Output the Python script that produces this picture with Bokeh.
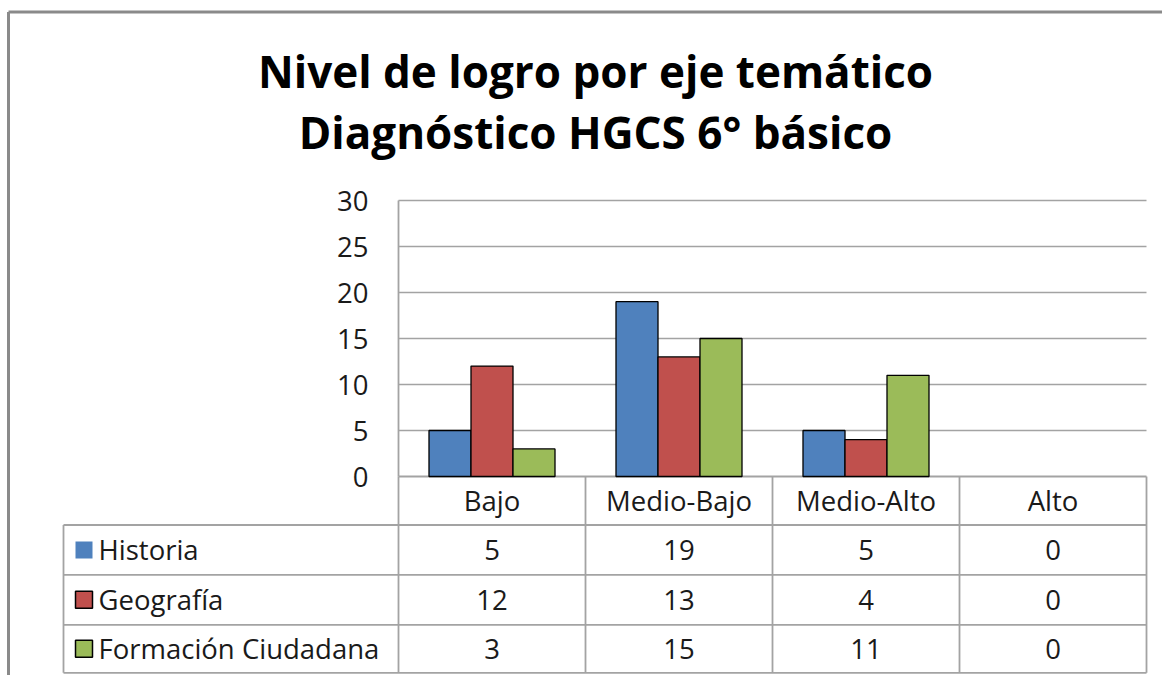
from bokeh.plotting import figure
from bokeh.models import Range1d
from bokeh.core.properties import value
from bokeh.embed import file_html
from bokeh.resources import INLINE

# ---------------- data ----------------
title_lines = ["Nivel de logro por eje temático", "Diagnóstico HGCS 6° básico"]
categories = ["Bajo", "Medio-Bajo", "Medio-Alto", "Alto"]
series_names = ["Historia", "Geografía", "Formación Ciudadana"]
historia = [5, 19, 5, 0]
geografia = [12, 13, 4, 0]
formacion = [3, 15, 11, 0]
y_ticks = [0, 5, 10, 15, 20, 25, 30]
colors = ["#4F81BD", "#C0504D", "#9BBB59"]

series = [historia, geografia, formacion]

# ---------------- geometry (page pixels) ----------------
W, H = 1162, 675
PAGE = 0
AX_LEFT, AX_RIGHT = 398, 1146
Y0_PIX, YTOP_PIX = 476, 200
Y_MAX = 30
TABLE_LEFT = 63
ROW_EDGES = [476, 524.5, 574.3, 624.3, 672.3]

px_x = (AX_RIGHT - AX_LEFT) / len(categories)
px_y = (Y0_PIX - YTOP_PIX) / Y_MAX


def dx(px):
    return (px - AX_LEFT) / px_x


def dy(py):
    return (Y0_PIX - py) / px_y


FONT = value("Open Sans")
TXT = "#1a1a1a"
GRID = "#a3a3a3"
FS = "27.5px"

p = figure(width=W, height=H,
           x_range=Range1d(dx(PAGE), dx(PAGE + W)),
           y_range=Range1d(dy(PAGE + H), dy(PAGE)),
           output_backend="svg", toolbar_location=None,
           x_axis_location=None, y_axis_location=None,
           min_border=0, min_border_left=0, min_border_right=0,
           min_border_top=0, min_border_bottom=0)
p.grid.visible = False
p.outline_line_color = None
p.background_fill_color = "white"
p.border_fill_color = "white"

# outer chart border
p.segment(x0=[dx(8), dx(8)], y0=[dy(11.5), dy(11.5)],
          x1=[dx(8), dx(PAGE + W + 5)], y1=[dy(PAGE + H + 5), dy(11.5)],
          line_color="#8a8a8a", line_width=3)

# title
for k, line in enumerate(title_lines):
    p.text(x=[dx(595)], y=[dy(70 + 61 * k)], text=[line],
           text_font=FONT, text_font_style="bold", text_font_size="44px",
           text_color="black", text_align="center", text_baseline="middle")

# gridlines
gl = [t for t in y_ticks if t > 0]
p.segment(x0=[0] * len(gl), x1=[len(categories)] * len(gl), y0=gl, y1=gl,
          line_color=GRID, line_width=1.6)

# y tick labels
p.text(x=[dx(368)] * len(y_ticks), y=y_ticks, text=[str(t) for t in y_ticks],
       text_font=FONT, text_font_size=FS, text_color=TXT,
       text_align="right", text_baseline="middle")

# table lines
hx0, hx1, hy = [], [], []
hx0.append(0); hx1.append(len(categories)); hy.append(0)
for e in ROW_EDGES[1:]:
    hx0.append(dx(TABLE_LEFT)); hx1.append(len(categories)); hy.append(dy(e))
p.segment(x0=hx0, x1=hx1, y0=hy, y1=hy, line_color=GRID, line_width=1.8)
vx = list(range(len(categories) + 1))
p.segment(x0=vx, x1=vx, y0=[0] * len(vx), y1=[dy(ROW_EDGES[-1])] * len(vx),
          line_color=GRID, line_width=1.8)
p.segment(x0=[0], x1=[0], y0=[Y_MAX], y1=[0], line_color=GRID, line_width=1.8)
p.segment(x0=[dx(TABLE_LEFT)], x1=[dx(TABLE_LEFT)], y0=[dy(ROW_EDGES[1])],
          y1=[dy(ROW_EDGES[-1])], line_color=GRID, line_width=1.8)

# bars
bw = 42 / px_x
for i, vals in enumerate(series):
    xs = [j + 0.5 + (i - 1) * bw for j, v in enumerate(vals) if v > 0]
    tops = [v for v in vals if v > 0]
    p.vbar(x=xs, top=tops, bottom=0, width=bw, fill_color=colors[i],
           line_color="black", line_width=1.3)

# header labels
hc = dy((ROW_EDGES[0] + ROW_EDGES[1]) / 2)
p.text(x=[j + 0.5 for j in range(len(categories))], y=[hc] * len(categories),
       text=categories, text_font=FONT, text_font_size=FS, text_color=TXT,
       text_align="center", text_baseline="middle")

# rows
for i, (name, vals) in enumerate(zip(series_names, series)):
    yc_pix = (ROW_EDGES[i + 1] + ROW_EDGES[i + 2]) / 2
    yc = dy(yc_pix)
    p.quad(left=[dx(75)], right=[dx(92)], top=[dy(yc_pix - 8.5)],
           bottom=[dy(yc_pix + 8.5)], fill_color=colors[i],
           line_color=None if i == 0 else "black", line_width=1.5)
    p.text(x=[dx(98)], y=[yc], text=[name], text_font=FONT,
           text_font_size=FS, text_color=TXT, text_align="left",
           text_baseline="middle")
    p.text(x=[j + 0.5 for j in range(len(vals))], y=[yc] * len(vals),
           text=[str(v) for v in vals], text_font=FONT, text_font_size=FS,
           text_color=TXT, text_align="center", text_baseline="middle")

open("out.html", "w").write(file_html(p, INLINE))
